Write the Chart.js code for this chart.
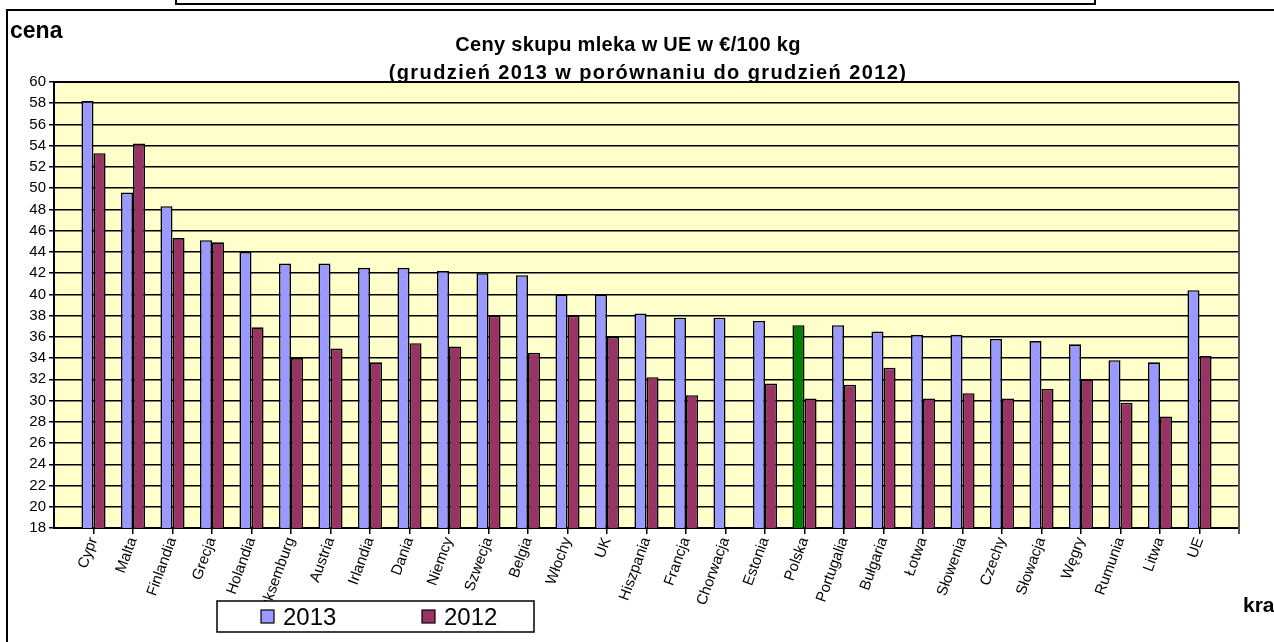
<!DOCTYPE html>
<html>
<head>
<meta charset="utf-8">
<script src="https://cdn.jsdelivr.net/npm/chart.js@4.4.1/dist/chart.umd.min.js"></script>
<style>
  html, body { margin: 0; padding: 0; background: #fff; }
  #wrap { width: 1274px; height: 642px; position: relative; }
</style>
</head>
<body>
<div id="wrap"><canvas id="c" width="1274" height="642"></canvas></div>
<script>
const categories = ['Cypr','Malta','Finlandia','Grecja','Holandia','Luksemburg','Austria','Irlandia','Dania','Niemcy','Szwecja','Belgia','Włochy','UK','Hiszpania','Francja','Chorwacja','Estonia','Polska','Portugalia','Bułgaria','Łotwa','Słowenia','Czechy','Słowacja','Węgry','Rumunia','Litwa','UE'];
const values2013 = [58.2,49.6,48.3,45.1,44.0,42.9,42.9,42.5,42.5,42.2,42.0,41.8,40.0,40.0,38.2,37.8,37.8,37.5,37.1,37.1,36.5,36.2,36.2,35.8,35.6,35.3,33.8,33.6,40.4];
const values2012 = [53.3,54.2,45.3,44.9,36.9,34.0,34.9,33.6,35.4,35.1,38.0,34.5,38.0,36.0,32.2,30.5,null,31.6,30.2,31.5,33.1,30.2,30.7,30.2,31.1,32.0,29.8,28.5,34.2];
const seriesNames = ['2013','2012'];
const yMin = 18, yMax = 60, yStep = 2;
const titleLines = ['Ceny skupu mleka w UE w €/100 kg', '(grudzień 2013 w porównaniu do grudzień 2012)'];
const yAxisTitle = 'cena';
const xAxisTitle = 'kraj';
const highlighted = 'Polska';

const FONT = '"Liberation Sans", Arial, sans-serif';
const COL2013 = '#9999FF', COL2012 = '#993366', COLHI = '#008000';

const decor = {
  id: 'decor',
  beforeDraw(chart) {
    const ctx = chart.ctx, a = chart.chartArea;
    ctx.save();
    ctx.fillStyle = '#fff';
    ctx.fillRect(0, 0, chart.width, chart.height);
    // outer frame
    ctx.strokeStyle = '#000';
    ctx.lineWidth = 2;
    ctx.beginPath();
    ctx.moveTo(7, chart.height + 2); ctx.lineTo(7, 10); ctx.lineTo(chart.width + 2, 10);
    ctx.stroke();
    // small box at top
    ctx.beginPath();
    ctx.moveTo(176, -2); ctx.lineTo(176, 4); ctx.lineTo(1095, 4); ctx.lineTo(1095, -2);
    ctx.stroke();
    // plot background
    ctx.fillStyle = '#FFFFCC';
    ctx.fillRect(a.left, a.top, a.right - a.left, a.bottom - a.top);
    ctx.restore();
  },
  afterDraw(chart) {
    const ctx = chart.ctx, a = chart.chartArea;
    ctx.save();
    // plot borders
    ctx.strokeStyle = '#000';
    ctx.lineWidth = 2;
    ctx.beginPath(); ctx.moveTo(a.left, a.top); ctx.lineTo(a.right, a.top); ctx.stroke();
    ctx.strokeStyle = '#555';
    ctx.beginPath(); ctx.moveTo(a.right, a.top); ctx.lineTo(a.right, a.bottom + 6); ctx.stroke();
    // titles
    ctx.fillStyle = '#000';
    ctx.textAlign = 'center';
    ctx.textBaseline = 'alphabetic';
    ctx.font = 'bold 20px ' + FONT;
    ctx.letterSpacing = '0.3px';
    ctx.fillText(titleLines[0], 628, 51);
    ctx.letterSpacing = '1.4px';
    ctx.fillText(titleLines[1], 648, 79);
    ctx.letterSpacing = '0px';
    ctx.textAlign = 'left';
    ctx.font = 'bold 23px ' + FONT;
    ctx.fillText(yAxisTitle, 10, 38);
    ctx.font = 'bold 21px ' + FONT;
    ctx.fillText(xAxisTitle, 1243, 612);
    // legend
    ctx.fillStyle = '#fff';
    ctx.fillRect(217, 601, 317, 31);
    ctx.strokeStyle = '#000';
    ctx.lineWidth = 1.5;
    ctx.strokeRect(217, 601, 317, 31);
    const items = [[261, COL2013, seriesNames[0]], [422, COL2012, seriesNames[1]]];
    ctx.font = '24px ' + FONT;
    ctx.textBaseline = 'alphabetic';
    for (const [x, col, txt] of items) {
      ctx.fillStyle = col;
      ctx.fillRect(x, 610, 13, 13);
      ctx.strokeStyle = '#000';
      ctx.lineWidth = 1.2;
      ctx.strokeRect(x, 610, 13, 13);
      ctx.fillStyle = '#000';
      ctx.fillText(txt, x + 22, 625);
    }
    ctx.restore();
  }
};

new Chart(document.getElementById('c'), {
  type: 'bar',
  data: {
    labels: categories,
    datasets: [
      {
        label: seriesNames[0],
        data: values2013,
        backgroundColor: categories.map(c => c === highlighted ? COLHI : COL2013),
        borderColor: '#000',
        borderWidth: 1.6,
        barPercentage: 1,
        categoryPercentage: 0.61
      },
      {
        label: seriesNames[1],
        data: values2012,
        backgroundColor: COL2012,
        borderColor: '#000',
        borderWidth: 1.6,
        barPercentage: 1,
        categoryPercentage: 0.61
      }
    ]
  },
  options: {
    responsive: false,
    animation: false,
    devicePixelRatio: 1,
    layout: { padding: { left: 0, right: 35, top: 82, bottom: 0 } },
    plugins: { legend: { display: false }, title: { display: false }, tooltip: { enabled: false } },
    scales: {
      x: {
        offset: false,
        afterBuildTicks(s) { s._startValue -= 1; s._valueRange += 2; },
        afterFit(s) { s.height = 114; },
        grid: { display: true, drawOnChartArea: false, drawTicks: true, tickLength: 6, color: '#000', lineWidth: 1.5, offset: false },
        border: { display: true, color: '#000', width: 2 },
        ticks: { autoSkip: false, maxRotation: 70, minRotation: 70, padding: 1, color: '#000', font: { family: FONT, size: 15 } }
      },
      y: {
        min: yMin,
        max: yMax,
        afterFit(s) { s.width = 54; },
        grid: { color: '#000', lineWidth: 1.5, tickLength: 5 },
        border: { display: true, color: '#000', width: 2 },
        ticks: { stepSize: yStep, padding: 3, color: '#000', font: { family: FONT, size: 15 } }
      }
    }
  },
  plugins: [decor]
});
</script>
</body>
</html>
